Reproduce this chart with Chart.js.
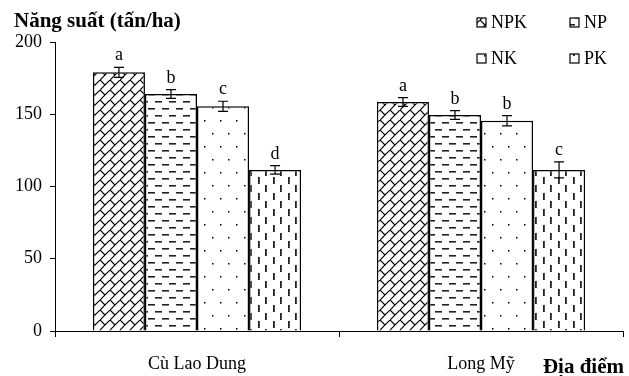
<!DOCTYPE html>
<html>
<head>
<meta charset="utf-8">
<script src="https://cdn.jsdelivr.net/npm/chart.js@4/dist/chart.umd.min.js"></script>
<style>
  body { margin: 0; background: #fff; }
</style>
</head>
<body>
<canvas id="c" width="629" height="376"></canvas>
<script>
const sites = ['Cù Lao Dung', 'Long Mỹ'];
const treatments = ['NPK', 'NP', 'NK', 'PK'];

const npk = [179, 158.5];
const np  = [164, 149.5];
const nk  = [155.5, 145.5];
const pk  = [111.5, 111.5];

const npkErr = [3.5, 3];
const npErr  = [3, 3];
const nkErr  = [3.5, 3.5];
const pkErr  = [3, 5.5];

const npkSig = ['a', 'a'];
const npSig  = ['b', 'b'];
const nkSig  = ['c', 'b'];
const pkSig  = ['d', 'c'];

const FONT = '"Liberation Serif", "Times New Roman", serif';

function tile(w, h, draw) {
  const t = document.createElement('canvas');
  t.width = w; t.height = h;
  const g = t.getContext('2d');
  g.fillStyle = '#fff';
  g.fillRect(0, 0, w, h);
  g.strokeStyle = '#000';
  g.fillStyle = '#000';
  draw(g);
  return document.getElementById('c').getContext('2d').createPattern(t, 'repeat');
}

// diagonal brick
const brick = tile(10, 10, g => {
  g.lineWidth = 1.2;
  g.beginPath();
  g.moveTo(-1, 11); g.lineTo(11, -1);
  g.moveTo(0, 0); g.lineTo(5, 5);
  g.stroke();
});
// horizontal dashes
const hdash = tile(14, 14, g => {
  g.fillStyle = '#222';
  g.fillRect(1, 3, 7, 1.6);
  g.fillRect(8, 10, 7, 1.6);
  g.fillRect(-6, 10, 7, 1.6);
});
// dots
const dots = tile(16, 26, g => {
  g.fillRect(4, 3, 1.5, 1.5);
  g.fillRect(12, 16, 1.5, 1.5);
});
// vertical dashes
const vdash = tile(15, 16, g => {
  g.fillStyle = '#222';
  g.fillRect(3, 1, 1.8, 7);
  g.fillRect(10, 9, 1.8, 7);
});

const fills = [brick, hdash, dots, vdash];
const values = [npk, np, nk, pk];
const errs = [npkErr, npErr, nkErr, pkErr];
const sigs = [npkSig, npSig, nkSig, pkSig];

const errorBars = {
  id: 'errorBars',
  afterDatasetsDraw(chart) {
    const ctx = chart.ctx;
    const y = chart.scales.y;
    ctx.save();
    ctx.strokeStyle = '#000';
    ctx.lineWidth = 1.2;
    ctx.fillStyle = '#000';
    ctx.font = '18px ' + FONT;
    ctx.textAlign = 'center';
    ctx.textBaseline = 'alphabetic';
    chart.data.datasets.forEach((ds, i) => {
      chart.getDatasetMeta(i).data.forEach((bar, j) => {
        const v = values[i][j], e = errs[i][j];
        const top = y.getPixelForValue(v + e);
        const bot = y.getPixelForValue(v - e);
        ctx.beginPath();
        ctx.moveTo(bar.x, top); ctx.lineTo(bar.x, bot);
        ctx.moveTo(bar.x - 5, top); ctx.lineTo(bar.x + 5, top);
        ctx.moveTo(bar.x - 5, bot); ctx.lineTo(bar.x + 5, bot);
        ctx.stroke();
        ctx.fillText(sigs[i][j], bar.x, top - 7);
      });
    });
    ctx.restore();
  },
  afterDraw(chart) {
    const ctx = chart.ctx;
    ctx.save();
    ctx.fillStyle = '#000';
    ctx.textBaseline = 'alphabetic';
    ctx.textAlign = 'left';
    ctx.font = 'bold 21px ' + FONT;
    ctx.fillText('Năng suất (tấn/ha)', 14, 27);
    ctx.textAlign = 'right';
    ctx.fillText('Địa điểm', 624, 373);

    // legend 2x2
    const pos = [[477, 18], [570, 18], [477, 54], [570, 54]];
    ctx.font = '18px ' + FONT;
    ctx.textAlign = 'left';
    ctx.textBaseline = 'middle';
    treatments.forEach((name, i) => {
      const [lx, ly] = pos[i];
      ctx.fillStyle = fills[i];
      ctx.fillRect(lx, ly, 9, 9);
      ctx.strokeStyle = '#000';
      ctx.lineWidth = 1.2;
      ctx.strokeRect(lx, ly, 9, 9);
      ctx.fillStyle = '#000';
      ctx.fillText(name, lx + 14, ly + 5);
    });
    ctx.restore();
  }
};

new Chart(document.getElementById('c'), {
  type: 'bar',
  data: {
    labels: sites,
    datasets: treatments.map((t, i) => ({
      label: t,
      data: values[i],
      backgroundColor: fills[i],
      borderColor: '#000',
      borderWidth: 1.5,
      barPercentage: 1,
      categoryPercentage: 0.733
    }))
  },
  options: {
    responsive: false,
    animation: false,
    layout: { padding: { top: 42, right: 6, left: 0, bottom: 0 } },
    plugins: { legend: { display: false }, title: { display: false }, tooltip: { enabled: false } },
    scales: {
      x: {
        afterFit(s) { s.height = 45; },
        grid: { offset: true, drawOnChartArea: false, tickLength: 6, color: '#000' },
        border: { color: '#000', width: 1 },
        ticks: { color: '#000', font: { family: FONT, size: 18 }, padding: 16 }
      },
      y: {
        min: 0, max: 200,
        afterFit(s) { s.width = 55; },
        grid: { drawOnChartArea: false, tickLength: 5, color: '#000' },
        border: { color: '#000', width: 1 },
        ticks: { stepSize: 50, color: '#000', font: { family: FONT, size: 18 }, padding: 8 }
      }
    }
  },
  plugins: [errorBars]
});
</script>
</body>
</html>
